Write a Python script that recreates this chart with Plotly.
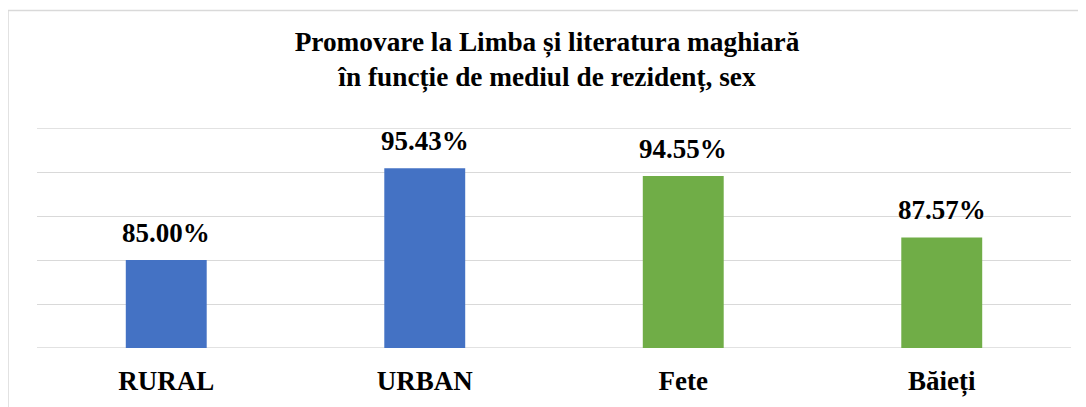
import plotly.graph_objects as go

categories = ["RURAL", "URBAN", "Fete", "Băieți"]
values = [85.00, 95.43, 94.55, 87.57]
labels = ["85.00%", "95.43%", "94.55%", "87.57%"]
bar_colors = ["#4472C4", "#4472C4", "#70AD47", "#70AD47"]
title_lines = ["Promovare la Limba și literatura maghiară", "în funcție de mediul de rezidenț, sex"]
y_min, y_max = 75, 100

FONT = "Liberation Serif, Times New Roman, serif"

W, H = 1078, 399
ML, MR, MT, MB = 29, 15, 120, 59
PW, PH = W - ML - MR, H - MT - MB

fig = go.Figure()
fig.add_trace(go.Bar(x=categories, y=values, marker=dict(color=bar_colors, line=dict(width=0)),
                     width=0.313, hoverinfo="skip"))

for c, v, t in zip(categories, values, labels):
    fig.add_annotation(x=c, y=v, text=f"<b>{t}</b>", showarrow=False, yanchor="bottom",
                       yshift=10, font=dict(family=FONT, size=27, color="#000000"))

edge_lines = [dict(type="line", xref="paper", yref="y", x0=0, x1=1, y0=yv, y1=yv,
                   line=dict(color="#D9D9D9", width=1.3), layer="below")
              for yv in (y_min, y_max)]

fig.update_layout(
    width=W, height=H,
    margin=dict(l=ML, r=MR, t=MT, b=MB),
    paper_bgcolor="white", plot_bgcolor="white",
    showlegend=False,
    title=dict(text="<b>" + title_lines[0] + "<br>" + title_lines[1] + "</b>",
               x=0.5, xref="container", xanchor="center",
               y=1 - 42.5 / H, yref="container", yanchor="middle",
               font=dict(family=FONT, size=27.3, color="#000000")),
    xaxis=dict(showgrid=False, showline=False, zeroline=False, ticks="", automargin=False,
               tickfont=dict(family=FONT, size=27, color="#000000"),
               ticklabelstandoff=14, tickprefix="<b>", ticksuffix="</b>"),
    yaxis=dict(range=[y_min, y_max], dtick=5, tick0=75, showgrid=True, gridcolor="#D9D9D9",
               gridwidth=1.3, showticklabels=False, zeroline=False, showline=False, ticks="",
               automargin=False),
    shapes=[dict(type="rect", xref="paper", yref="paper",
                 x0=-ML / PW, x1=1.05, y0=-0.4, y1=1 + (MT - 2.5) / PH,
                 line=dict(color="#D9D9D9", width=1.5), fillcolor="rgba(0,0,0,0)", layer="below")]
           + edge_lines,
)

fig.write_html("out.html")
